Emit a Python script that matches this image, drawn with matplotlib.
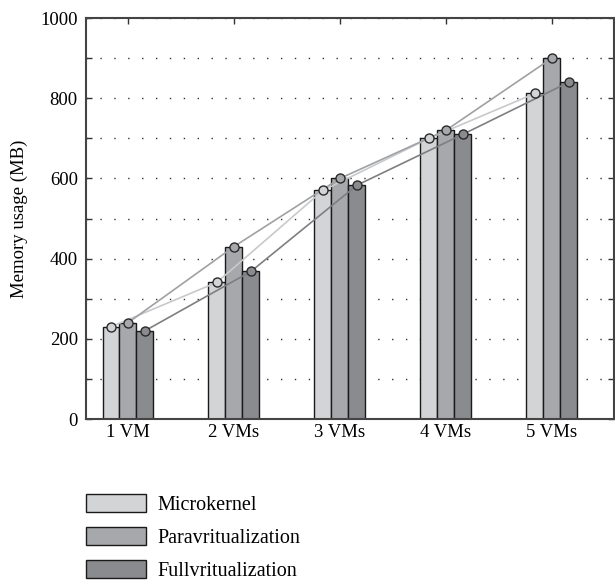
import matplotlib.pyplot as plt
import numpy as np
from matplotlib.patches import Patch

plt.rcParams['font.family'] = ['Liberation Serif', 'DejaVu Serif']

categories = ['1 VM', '2 VMs', '3 VMs', '4 VMs', '5 VMs']
microkernel = [230, 341, 570, 700, 812]
paravirt = [240, 430, 600, 720, 900]
fullvirt = [220, 368, 583, 710, 840]
labels = ['Microkernel', 'Paravritualization', 'Fullvritualization']

bar_colors = ['#d3d4d6', '#a7a8ab', '#8a8b8e']
line_colors = ['#c8c9cb', '#a0a1a4', '#7e7f82']

fig = plt.figure(figsize=(6.15, 5.84), dpi=100)
ax = fig.add_axes([0.14, 0.2825, 0.858, 0.6865])

x = np.arange(1, len(categories) + 1)
w = 0.16
series = [microkernel, paravirt, fullvirt]
for i, vals in enumerate(series):
    ax.bar(x + (i - 1) * w, vals, w, color=bar_colors[i], edgecolor='#1a1a1a',
           linewidth=1.0, zorder=2)
for i, vals in enumerate(series):
    ax.plot(x + (i - 1) * w, vals, '-', color=line_colors[i], lw=1.2, zorder=3)
    ax.plot(x + (i - 1) * w, vals, 'o', ms=6.5, mfc=bar_colors[i], mec='#2a2a2a',
            mew=1.0, zorder=4)

ax.set_xlim(0.605, 5.585)
ax.set_ylim(0, 1000)
ax.set_xticks(x)
ax.set_xticklabels(categories, fontsize=13.5)
ax.set_yticks(np.arange(0, 1001, 100))
ax.set_yticklabels([str(v) if v % 200 == 0 else '' for v in range(0, 1001, 100)], fontsize=13.5)
ax.tick_params(direction='in', top=True, right=True, length=4, width=1, color='#333333')
ax.tick_params(axis='y', pad=6)
ax.set_ylabel('Memory usage (MB)', fontsize=13.5, labelpad=9)
ax.yaxis.grid(True, linestyle=(0, (1, 9)), color='#333333', lw=1.0)
ax.set_axisbelow(True)
for s in ax.spines.values():
    s.set_color('#444444')
    s.set_linewidth(1.5)

handles = [Patch(facecolor=c, edgecolor='#1a1a1a', lw=1.0) for c in bar_colors]
fig.legend(handles, labels, loc='upper left', bbox_to_anchor=(0.111, 0.185),
           frameon=False, fontsize=14.5, handlelength=2.95, handleheight=0.98,
           labelspacing=0.6, handletextpad=0.6, borderpad=0.4)

fig.savefig('out.png', dpi=100)
